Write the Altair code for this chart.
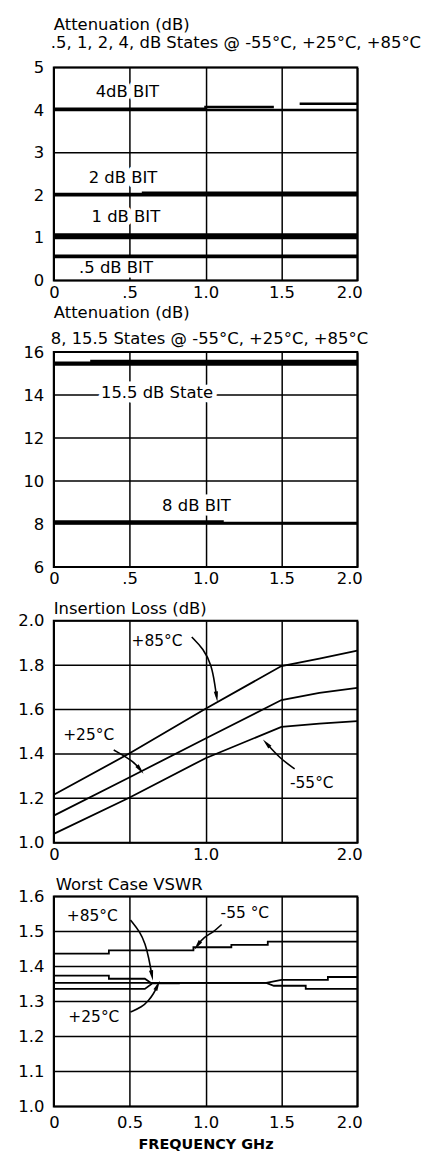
import altair as alt
import pandas as pd

FONT = "DejaVu Sans"
PW = 305  # plot width

# ---------------- Panel 1: attenuation .5/1/2/4 dB states ----------------
A4_X_1, A4_Y_1 = [0.0, 2.0], [4.00, 4.00]
A4_X_2, A4_Y_2 = [0.0, 1.0, 1.0, 1.45], [4.03, 4.03, 4.07, 4.07]
A4_X_3, A4_Y_3 = [1.62, 2.0], [4.15, 4.15]
A2_X_1, A2_Y_1 = [0.0, 2.0], [2.00, 2.00]
A2_X_2, A2_Y_2 = [0.0, 2.0], [2.03, 2.03]
A2_X_3, A2_Y_3 = [0.58, 2.0], [2.06, 2.06]
A1_X_1, A1_Y_1 = [0.0, 2.0], [1.00, 1.00]
A1_X_2, A1_Y_2 = [0.0, 2.0], [1.04, 1.04]
A1_X_3, A1_Y_3 = [0.0, 2.0], [1.08, 1.08]
A05_X_1, A05_Y_1 = [0.0, 2.0], [0.55, 0.55]
A05_X_2, A05_Y_2 = [0.0, 2.0], [0.58, 0.58]
P1_Y_TICKS = [0, 1, 2, 3, 4, 5]
P1_LABELS = ["4dB BIT", "2 dB BIT", "1 dB BIT", ".5 dB BIT"]
P1_LABEL_X = [0.485, 0.456, 0.475, 0.41]
P1_LABEL_Y = [4.42, 2.40, 1.50, 0.30]
P1_TITLE = ["Attenuation (dB)", ".5, 1, 2, 4, dB States @ -55°C, +25°C, +85°C"]

# ---------------- Panel 2: attenuation 8 / 15.5 dB states ----------------
A15_X_1, A15_Y_1 = [0.0, 2.0], [15.42, 15.42]
A15_X_2, A15_Y_2 = [0.0, 2.0], [15.50, 15.50]
A15_X_3, A15_Y_3 = [0.24, 2.0], [15.58, 15.58]
A8_X_1, A8_Y_1 = [0.0, 2.0], [8.05, 8.05]
A8_X_2, A8_Y_2 = [0.0, 1.12], [8.12, 8.12]
P2_Y_TICKS = [6, 8, 10, 12, 14, 16]
P2_LABELS = ["15.5 dB State", "8 dB BIT"]
P2_LABEL_X = [0.68, 0.94]
P2_LABEL_Y = [14.1, 8.82]
P2_TITLE = ["Attenuation (dB)", "8, 15.5 States @ -55°C, +25°C, +85°C"]

# ---------------- Panel 3: insertion loss ----------------
IL_FREQ = [0.0, 0.5, 1.0, 1.5, 1.75, 2.0]
IL_P85 = [1.216, 1.403, 1.604, 1.796, 1.830, 1.866]
IL_P25 = [1.122, 1.295, 1.470, 1.643, 1.675, 1.698]
IL_M55 = [1.040, 1.204, 1.381, 1.522, 1.537, 1.548]
P3_Y_TICKS = [1.0, 1.2, 1.4, 1.6, 1.8, 2.0]
P3_LABELS = ["+85°C", "+25°C", "-55°C"]
P3_LABEL_X = [0.68, 0.23, 1.70]
P3_LABEL_Y = [1.91, 1.486, 1.27]
P3_ARROW_P85_X = [0.909, 0.986, 1.040, 1.062, 1.073]
P3_ARROW_P85_Y = [1.927, 1.874, 1.800, 1.710, 1.658]
P3_ARROW_P25_X = [0.395, 0.527, 0.570]
P3_ARROW_P25_Y = [1.418, 1.366, 1.329]
P3_ARROW_M55_X = [1.587, 1.489, 1.401]
P3_ARROW_M55_Y = [1.333, 1.381, 1.448]
P3_HEAD_ANGLE = [171.7, 141.4, 318.4]
P3_TITLE = ["Insertion Loss (dB)"]

# ---------------- Panel 4: worst case VSWR ----------------
VS_M55_X = [0.0, 0.363, 0.363, 0.92, 0.92, 1.17, 1.17, 1.41, 1.41, 2.0]
VS_M55_Y = [1.437, 1.437, 1.446, 1.446, 1.455, 1.455, 1.462, 1.462, 1.471, 1.471]
VS_P85_X = [0.0, 0.363, 0.363, 0.60, 0.64, 1.40, 1.45, 1.66, 1.66, 2.0]
VS_P85_Y = [1.374, 1.374, 1.365, 1.365, 1.353, 1.353, 1.345, 1.345, 1.336, 1.336]
VS_P25_X = [0.0, 1.40, 1.50, 1.806, 1.806, 2.0]
VS_P25_Y = [1.353, 1.353, 1.362, 1.362, 1.370, 1.370]
VS_LOW_X = [0.0, 0.60, 0.65, 0.83]
VS_LOW_Y = [1.336, 1.336, 1.352, 1.352]
P4_Y_TICKS = [1.0, 1.1, 1.2, 1.3, 1.4, 1.5, 1.6]
P4_LABELS = ["+85°C", "+25°C", "-55 °C"]
P4_LABEL_X = [0.254, 0.264, 1.259]
P4_LABEL_Y = [1.545, 1.256, 1.552]
P4_ARROW_P85_X = [0.505, 0.570, 0.603, 0.625, 0.647]
P4_ARROW_P85_Y = [1.533, 1.498, 1.464, 1.427, 1.374]
P4_ARROW_P25_X = [0.505, 0.581, 0.625, 0.658, 0.684]
P4_ARROW_P25_Y = [1.270, 1.284, 1.303, 1.322, 1.346]
P4_ARROW_M55_X = [1.106, 1.051, 0.986, 0.946]
P4_ARROW_M55_Y = [1.520, 1.498, 1.483, 1.460]
P4_HEAD_ANGLE = [169.5, 25.5, 215.9]
P4_TITLE = ["Worst Case VSWR"]

X_TICKS = [0, 0.5, 1.0, 1.5, 2.0]


def series_df(items):
    rows = []
    for name, xs, ys in items:
        for i, (x, y) in enumerate(zip(xs, ys)):
            rows.append({"s": name, "i": i, "x": x, "y": y})
    return pd.DataFrame(rows)


def text_df(labels, xs, ys):
    return pd.DataFrame({"t": labels, "x": xs, "y": ys})


def heads_df(arrows, angles):
    rows = []
    for (name, xs, ys), a in zip(arrows, angles):
        rows.append({"s": name, "x": xs[-1], "y": ys[-1], "a": a})
    return pd.DataFrame(rows)


HEAD_SHAPE = "M0,-1L0.4,1L-0.4,1Z"


def panel(height, ydom, yvals, ylabel_expr, xlabel_expr, lines, lw,
          labels, label_size, halo, titles, title_y, title_x,
          arrows=None, angles=None, xtitle=None, xpad=4):
    xenc = alt.X("x:Q", scale=alt.Scale(domain=[0, 2], nice=False, zero=False),
                 axis=alt.Axis(values=X_TICKS, labelExpr=xlabel_expr, labelPadding=xpad,
                               labelFlush=True, labelFlushOffset=5, grid=True,
                               title=xtitle if xtitle else None,
                               titleFont=FONT, titleFontSize=14.5, titleFontWeight="bold",
                               titlePadding=7, titleColor="black"))
    yenc = alt.Y("y:Q", scale=alt.Scale(domain=ydom, nice=False, zero=False),
                 axis=alt.Axis(values=yvals, labelExpr=ylabel_expr, labelPadding=10,
                               grid=False, title=None))
    layers = [
        alt.Chart(pd.DataFrame({"y": yvals})).mark_rule(color="black", strokeWidth=1.5)
        .encode(y=yenc)
    ]
    tdf = text_df(*labels)
    if halo:
        layers.append(
            alt.Chart(tdf).mark_text(font=FONT, fontSize=label_size, stroke="white", strokeWidth=9,
                                     strokeJoin="round", color="white")
            .encode(x=xenc, y=yenc, text="t:N"))
    layers.append(
        alt.Chart(series_df(lines)).mark_line(color="black", strokeWidth=lw, strokeCap="butt")
        .encode(x=xenc, y=yenc, detail="s:N", order="i:Q"))
    if arrows:
        layers.append(
            alt.Chart(series_df(arrows)).mark_line(color="black", strokeWidth=1.6, interpolate="basis")
            .encode(x=xenc, y=yenc, detail="s:N", order="i:Q"))
        layers.append(
            alt.Chart(heads_df(arrows, angles)).mark_point(shape=HEAD_SHAPE, filled=True, color="black",
                                                           size=110, opacity=1)
            .encode(x=xenc, y=yenc, angle=alt.Angle("a:Q", scale=None)))
    layers.append(
        alt.Chart(tdf).mark_text(font=FONT, fontSize=label_size, color="black")
        .encode(x=xenc, y=yenc, text="t:N"))
    for t, ty, tx in zip(titles, title_y, title_x):
        layers.append(
            alt.Chart(pd.DataFrame({"t": [t]})).mark_text(font=FONT, fontSize=16.5, color="black",
                                                          align="left", baseline="alphabetic")
            .encode(x=alt.value(tx), y=alt.value(ty), text="t:N"))
    return alt.layer(*layers).properties(width=PW, height=height)


p1 = panel(214, [0, 5], P1_Y_TICKS, "datum.label",
           "datum.value == 0 ? '0' : datum.value == 0.5 ? '.5' : format(datum.value, '.1f')",
           [("a4_1", A4_X_1, A4_Y_1), ("a4_2", A4_X_2, A4_Y_2), ("a4_3", A4_X_3, A4_Y_3),
            ("a2_1", A2_X_1, A2_Y_1), ("a2_2", A2_X_2, A2_Y_2), ("a2_3", A2_X_3, A2_Y_3),
            ("a1_1", A1_X_1, A1_Y_1), ("a1_2", A1_X_2, A1_Y_2), ("a1_3", A1_X_3, A1_Y_3),
            ("a05_1", A05_X_1, A05_Y_1), ("a05_2", A05_X_2, A05_Y_2)],
           2.6, (P1_LABELS, P1_LABEL_X, P1_LABEL_Y), 16.5, True,
           P1_TITLE, [-38, -20], [0, -3])

p2 = panel(216, [6, 16], P2_Y_TICKS, "datum.label",
           "datum.value == 0 ? '0' : datum.value == 0.5 ? '.5' : format(datum.value, '.1f')",
           [("a15_1", A15_X_1, A15_Y_1), ("a15_2", A15_X_2, A15_Y_2), ("a15_3", A15_X_3, A15_Y_3),
            ("a8_1", A8_X_1, A8_Y_1), ("a8_2", A8_X_2, A8_Y_2)],
           2.6, (P2_LABELS, P2_LABEL_X, P2_LABEL_Y), 16.5, True,
           P2_TITLE, [-34, -8], [0, -3])

p3 = panel(223, [1.0, 2.0], P3_Y_TICKS, "format(datum.value, '.1f')",
           "datum.value == 0 ? '0' : (datum.value == 1 || datum.value == 2) ? format(datum.value, '.1f') : ''",
           [("p85", IL_FREQ, IL_P85), ("p25", IL_FREQ, IL_P25), ("m55", IL_FREQ, IL_M55)],
           1.8, (P3_LABELS, P3_LABEL_X, P3_LABEL_Y), 15.5, False,
           P3_TITLE, [-7], [0],
           arrows=[("ap85", P3_ARROW_P85_X, P3_ARROW_P85_Y), ("ap25", P3_ARROW_P25_X, P3_ARROW_P25_Y),
                   ("am55", P3_ARROW_M55_X, P3_ARROW_M55_Y)],
           angles=P3_HEAD_ANGLE)

p4 = panel(211, [1.0, 1.6], P4_Y_TICKS, "format(datum.value, '.1f')",
           "datum.value == 0 ? '0' : format(datum.value, '.1f')",
           [("m55", VS_M55_X, VS_M55_Y), ("p85", VS_P85_X, VS_P85_Y), ("p25", VS_P25_X, VS_P25_Y),
            ("low", VS_LOW_X, VS_LOW_Y)],
           1.8, (P4_LABELS, P4_LABEL_X, P4_LABEL_Y), 15.5, False,
           P4_TITLE, [-7], [2],
           arrows=[("vp85", P4_ARROW_P85_X, P4_ARROW_P85_Y), ("vp25", P4_ARROW_P25_X, P4_ARROW_P25_Y),
                   ("vm55", P4_ARROW_M55_X, P4_ARROW_M55_Y)],
           angles=P4_HEAD_ANGLE, xtitle="FREQUENCY GHz", xpad=8)


def spacer(h):
    return alt.Chart(pd.DataFrame({"z": [0]})).mark_point(opacity=0).encode(
        x=alt.value(0), y=alt.value(0)).properties(
        width=PW, height=h, view=alt.ViewBackground(strokeOpacity=0, strokeWidth=0))


chart = alt.vconcat(p1, spacer(36), p2, spacer(18), p3, spacer(18), p4,
                    spacing=18, bounds="flush").properties(
    padding={"left": 8, "top": 5, "right": 2, "bottom": 0},
    background="white",
).configure(font=FONT).configure_axis(
    gridColor="black", gridOpacity=1, gridWidth=1.5,
    domain=False, ticks=False,
    labelFont=FONT, labelFontSize=16.5, labelColor="black",
).configure_view(stroke="black", strokeWidth=2)

chart.save("out.html", embed_options={"renderer": "svg", "actions": False})
